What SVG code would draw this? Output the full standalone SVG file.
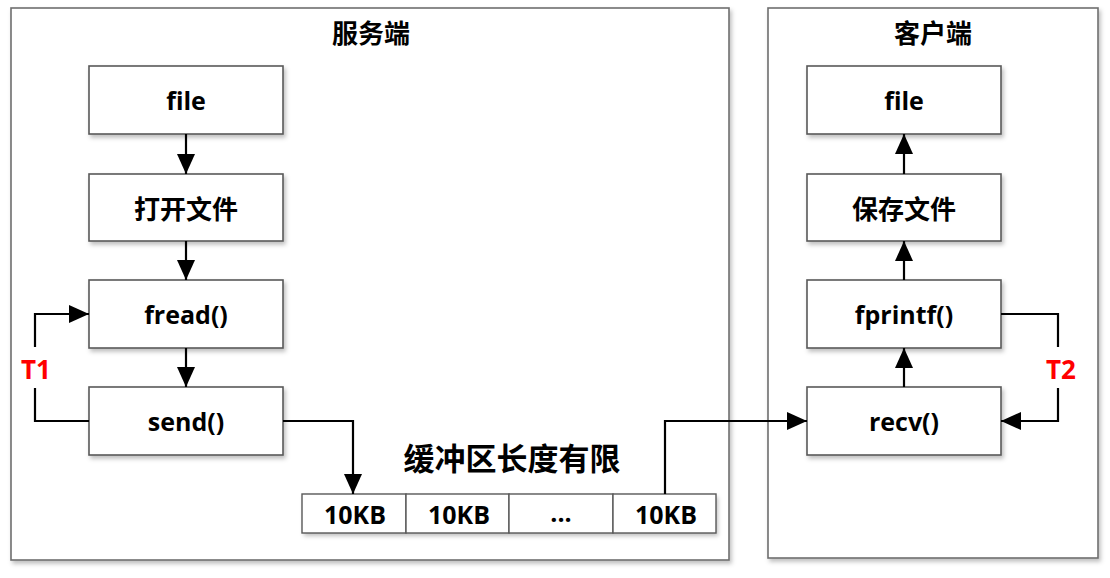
<svg xmlns="http://www.w3.org/2000/svg" width="1110" height="578" viewBox="0 0 1110 578">
<defs>
<filter id="sh" x="-10%" y="-10%" width="130%" height="140%">
<feDropShadow dx="2" dy="3" stdDeviation="2" flood-color="#000" flood-opacity="0.25"/>
</filter>
<marker id="ah2" markerWidth="20" markerHeight="20" viewBox="0 0 20 20" refX="20" refY="10" orient="auto" markerUnits="userSpaceOnUse">
<path d="M0,1 L20,10 L0,19 z" fill="#000"/>
</marker>
</defs>
<style>
.cont{fill:#fff;stroke:#6e6e6e;stroke-width:1.6;filter:url(#sh)}
.box{fill:#fff;stroke:#595959;stroke-width:1.6;filter:url(#sh)}
.cell{fill:#fff;stroke:#595959;stroke-width:1.4}
.t{font-family:"Open Sans","Noto Sans CJK SC",sans-serif;font-weight:bold;font-size:25px;fill:#000;text-anchor:middle;dominant-baseline:central}
.cj{font-family:"Noto Sans CJK SC",sans-serif;font-weight:bold;fill:#000;text-anchor:middle;dominant-baseline:central}
.red{font-family:"Open Sans","Noto Sans CJK SC",sans-serif;font-weight:bold;font-size:26px;fill:#ff0000;text-anchor:middle;dominant-baseline:central}
.ln{fill:none;stroke:#000;stroke-width:2.2}
</style>
<g id="server">
<rect class="cont" x="11" y="8" width="718" height="552"/>
<text class="cj" x="371" y="31" font-size="26">服务端</text>
</g>
<g id="client">
<rect class="cont" x="768" y="8" width="330" height="550"/>
<text class="cj" x="933" y="31" font-size="26">客户端</text>
</g>
<g id="s_file"><rect class="box" x="89" y="66" width="194" height="68"/><text class="t" x="186" y="100">file</text></g>
<g id="s_open"><rect class="box" x="89" y="174" width="194" height="67"/><text class="cj" x="186" y="207" font-size="26">打开文件</text></g>
<g id="s_fread"><rect class="box" x="89" y="280" width="194" height="68"/><text class="t" x="186" y="314">fread()</text></g>
<g id="s_send"><rect class="box" x="89" y="387" width="194" height="68"/><text class="t" x="186" y="421">send()</text></g>
<g id="c_file"><rect class="box" x="807" y="66" width="194" height="68"/><text class="t" x="904" y="100">file</text></g>
<g id="c_save"><rect class="box" x="807" y="174" width="194" height="67"/><text class="cj" x="904" y="207" font-size="26">保存文件</text></g>
<g id="c_fprintf"><rect class="box" x="807" y="280" width="194" height="68"/><text class="t" x="904" y="314">fprintf()</text></g>
<g id="c_recv"><rect class="box" x="807" y="387" width="194" height="68"/><text class="t" x="904" y="421">recv()</text></g>
<g id="buffer">
<rect x="302" y="494" width="414" height="39" fill="#fff" filter="url(#sh)"/>
<rect class="cell" x="302" y="494" width="104" height="39"/>
<rect class="cell" x="406" y="494" width="103" height="39"/>
<rect class="cell" x="509" y="494" width="104" height="39"/>
<rect class="cell" x="613" y="494" width="103" height="39"/>
<text class="t" x="355" y="514">10KB</text>
<text class="t" x="459" y="514">10KB</text>
<text class="t" x="561" y="512">...</text>
<text class="t" x="666" y="514">10KB</text>
</g>
<g id="buflabel"><text class="cj" x="512" y="456" font-size="31">缓冲区长度有限</text></g>
<g id="connectors">
<line class="ln" x1="186" y1="134" x2="186" y2="174" marker-end="url(#ah2)"/>
<line class="ln" x1="186" y1="241" x2="186" y2="280" marker-end="url(#ah2)"/>
<line class="ln" x1="186" y1="348" x2="186" y2="387" marker-end="url(#ah2)"/>
<line class="ln" x1="904" y1="174" x2="904" y2="134" marker-end="url(#ah2)"/>
<line class="ln" x1="904" y1="280" x2="904" y2="241" marker-end="url(#ah2)"/>
<line class="ln" x1="904" y1="387" x2="904" y2="348" marker-end="url(#ah2)"/>
<polyline class="ln" points="89,421 35,421 35,388"/>
<polyline class="ln" points="35,347 35,314 89,314" marker-end="url(#ah2)"/>
<polyline class="ln" points="1001,314 1058,314 1058,347"/>
<polyline class="ln" points="1058,388 1058,421 1001,421" marker-end="url(#ah2)"/>
<polyline class="ln" points="283,421 353,421 353,494" marker-end="url(#ah2)"/>
<polyline class="ln" points="665,494 665,421 807,421" marker-end="url(#ah2)"/>
</g>
<g id="labels">
<text class="red" x="36" y="369">T1</text>
<text class="red" x="1061" y="369">T2</text>
</g>
</svg>
